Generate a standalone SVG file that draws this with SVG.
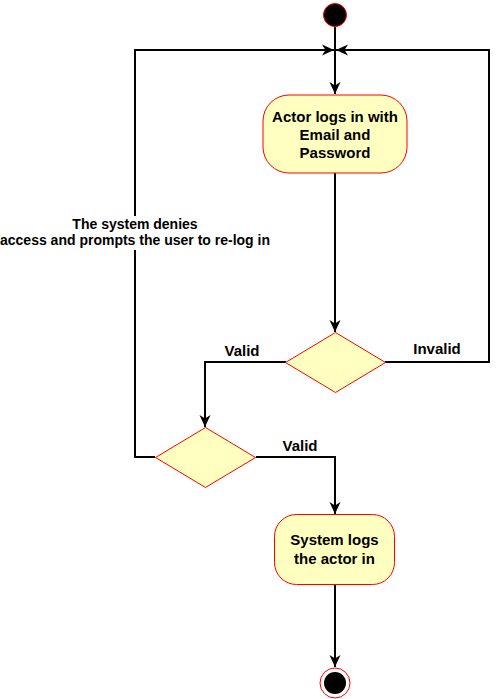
<svg xmlns="http://www.w3.org/2000/svg" width="498" height="699" viewBox="0 0 498 699">
<style>
.node{fill:#ffffc0;stroke:#ff0000;stroke-width:1}
.edge{fill:none;stroke:#000;stroke-width:2}
.t{font-family:"Liberation Sans",Arial,sans-serif;font-weight:bold;fill:#000;text-anchor:middle}
.nt{font-size:15px}
.lt{font-size:15px}
.dt{font-size:14px}
</style>
<defs>
<marker id="arr" markerUnits="userSpaceOnUse" markerWidth="14" markerHeight="12" refX="12" refY="6" orient="auto">
<path d="M0,0.5 L12,6 L0,11.5 L3.5,6 Z" fill="#000"/>
</marker>
</defs>
<rect width="498" height="699" fill="#fff"/>
<g id="connectors">
<path class="edge" d="M335,27 L335,94" marker-end="url(#arr)"/>
<path class="edge" d="M335,173 L335,332" marker-end="url(#arr)"/>
<path class="edge" d="M385,362 L489,362 L489,50 L336,50" marker-end="url(#arr)"/>
<path class="edge" d="M286,362 L205,362 L205,427" marker-end="url(#arr)"/>
<path class="edge" d="M155,457 L135,457 L135,50 L334,50" marker-end="url(#arr)"/>
<path class="edge" d="M256,457 L335,457 L335,514" marker-end="url(#arr)"/>
<path class="edge" d="M335,584 L335,667" marker-end="url(#arr)"/>
<rect x="0" y="216" width="270" height="34" fill="#fff"/>
<text class="t dt" x="135" y="229">The system denies</text>
<text class="t dt" x="135" y="245">access and prompts the user to re-log in</text>
<text class="t lt" x="242" y="356">Valid</text>
<text class="t lt" x="437" y="354">Invalid</text>
<text class="t lt" x="300" y="451">Valid</text>
</g>
<g id="start">
<circle cx="335" cy="15" r="11.5" fill="#000" stroke="#ff0000" stroke-width="1"/>
</g>
<g id="login">
<rect class="node" x="263" y="95" width="144" height="78" rx="26" ry="26"/>
<text class="t nt" x="335" y="122">Actor logs in with</text>
<text class="t nt" x="335" y="140">Email and</text>
<text class="t nt" x="335" y="158">Password</text>
</g>
<g id="decision1">
<path class="node" d="M335.5,332.5 L385.5,362.5 L335.5,392.5 L285.5,362.5 Z"/>
</g>
<g id="decision2">
<path class="node" d="M205.5,427.5 L255.5,457.5 L205.5,487.5 L155.5,457.5 Z"/>
</g>
<g id="loggedin">
<rect class="node" x="274.5" y="514.5" width="120" height="70" rx="22" ry="22"/>
<text class="t nt" x="334.5" y="545">System logs</text>
<text class="t nt" x="334.5" y="564">the actor in</text>
</g>
<g id="end">
<circle cx="335" cy="683" r="15" fill="#fff" stroke="#ff0000" stroke-width="1"/>
<circle cx="335" cy="683" r="11" fill="#000"/>
</g>
</svg>
